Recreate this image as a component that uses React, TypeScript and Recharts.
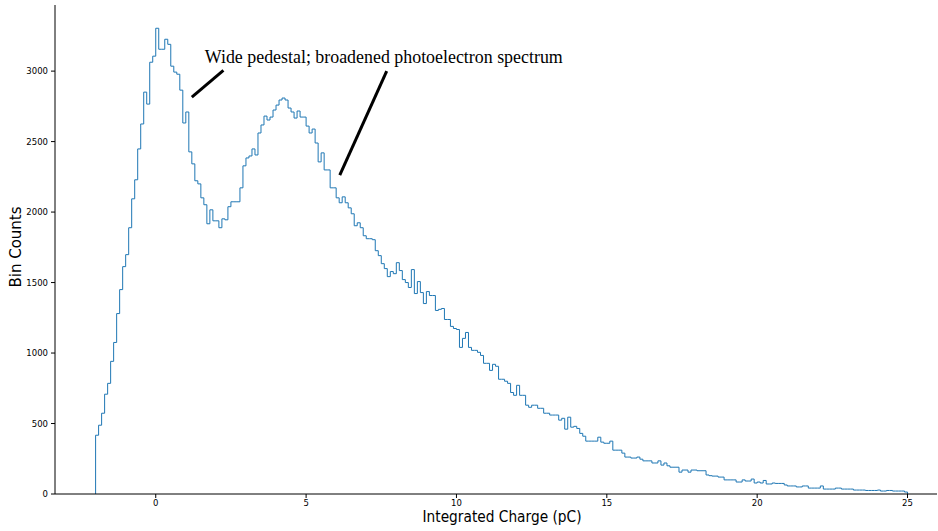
import { LineChart, Line, XAxis, YAxis, ReferenceLine, ReferenceDot } from "recharts";

// Histogram of integrated charge, bins of 0.1 pC starting at -2 pC
// (counts read off the reference plot, so only approximate)
const binStart = -2;
const binWidth = 0.1;
const counts = [
  417, 488, 573, 708, 785, 941, 1075, 1280, 1450, 1613, // -2.0
  1698, 1889, 2094, 2229, 2448, 2625, 2851, 2766, 3063, 3106, // -1.0
  3304, 3155, 3155, 3226, 3190, 3035, 2993, 2978, 2865, 2632, // 0
  2710, 2427, 2342, 2222, 2200, 2101, 2052, 1917, 2016, 1938, // 1
  1938, 1889, 1952, 1945, 2038, 2073, 2073, 2073, 2172, 2328, // 2
  2384, 2398, 2448, 2405, 2561, 2618, 2681, 2653, 2674, 2724, // 3
  2759, 2795, 2809, 2795, 2738, 2710, 2667, 2717, 2674, 2674, // 4
  2610, 2561, 2589, 2490, 2356, 2420, 2299, 2299, 2172, 2172, // 5
  2101, 2066, 2108, 2066, 2030, 1988, 1903, 1924, 1889, 1832, // 6
  1811, 1811, 1804, 1726, 1691, 1634, 1599, 1542, 1578, 1563, // 7
  1641, 1585, 1521, 1500, 1465, 1592, 1422, 1507, 1429, 1351, // 8
  1436, 1408, 1408, 1302, 1310, 1316, 1238, 1238, 1189, 1174, // 9
  1167, 1040, 1104, 1146, 1040, 1019, 1019, 1005, 983, 927, // 10
  927, 877, 920, 906, 814, 814, 800, 785, 720, 700, // 11
  771, 700, 700, 630, 615, 630, 630, 608, 608, 573, // 12
  573, 560, 560, 560, 524, 537, 460, 545, 474, 480, // 13
  465, 430, 410, 375, 375, 375, 375, 403, 368, 360, // 14
  360, 375, 311, 311, 311, 290, 262, 262, 255, 255, // 15
  262, 247, 235, 235, 235, 220, 220, 235, 205, 220, // 16
  200, 190, 190, 190, 155, 170, 170, 155, 170, 170, // 17
  165, 165, 165, 135, 130, 127, 127, 120, 120, 100, // 18
  100, 100, 100, 85, 85, 100, 92, 92, 106, 78, // 19
  85, 78, 96, 71, 71, 78, 75, 75, 75, 64, // 20
  57, 57, 57, 50, 50, 57, 57, 42, 42, 42, // 21
  42, 57, 35, 35, 35, 35, 42, 42, 35, 35, // 22
  35, 35, 28, 28, 28, 28, 25, 25, 25, 25, // 23
  28, 21, 21, 25, 25, 21, 21, 21, 21, 14, // 24
];

const xTicks = [0, 5, 10, 15, 20, 25];
const yTicks = [0, 500, 1000, 1500, 2000, 2500, 3000];
const note = "Wide pedestal; broadened photoelectron spectrum";

const binEnd = Math.round((binStart + counts.length * binWidth) * 10) / 10;

// outline like matplotlib histtype="step": up from 0 at the first edge, down to 0 at the last
const steps = [
  { charge: binStart, count: 0 },
  ...counts.map((c, i) => ({ charge: Math.round((binStart + i * binWidth) * 10) / 10, count: c })),
  { charge: binEnd, count: counts[counts.length - 1] },
  { charge: binEnd, count: 0 },
];

const xDomain = [-3.35, 25.98];
const yDomain = [0, 3469];
const tickFont = { fill: "#000", fontSize: 8.5, fontFamily: "DejaVu Sans" };

export default function App() {
  return (
    <div style={{ position: "absolute", left: 0, top: 0, width: 938, height: 531, background: "#fff" }}>
      <LineChart width={938} height={531} data={steps} margin={{ top: 5, right: 1, left: 0, bottom: 0 }}>
        <XAxis
          xAxisId="top"
          orientation="top"
          type="number"
          dataKey="charge"
          domain={xDomain}
          allowDataOverflow
          height={0}
          tick={false}
          tickLine={false}
          axisLine={{ stroke: "#000" }}
        />
        <XAxis
          type="number"
          dataKey="charge"
          domain={xDomain}
          allowDataOverflow
          ticks={xTicks}
          height={37}
          tickSize={4}
          tickMargin={2}
          tick={tickFont}
          tickLine={{ stroke: "#000" }}
          axisLine={{ stroke: "#000" }}
          label={{
            content: () => (
              <text x={502} y={522} textAnchor="middle" fontSize={15} fontFamily="DejaVu Sans" fill="#000"
                textLength={159} lengthAdjust="spacingAndGlyphs">
                Integrated Charge (pC)
              </text>
            ),
          }}
        />
        <YAxis
          type="number"
          domain={yDomain}
          allowDataOverflow
          ticks={yTicks}
          width={55}
          tickSize={4}
          tickMargin={3}
          tick={tickFont}
          tickLine={{ stroke: "#000" }}
          axisLine={{ stroke: "#000" }}
          label={{
            content: () => (
              <text x={21} y={247} transform="rotate(-90 21 247)" textAnchor="middle" fontSize={15}
                fontFamily="DejaVu Sans" fill="#000">
                Bin Counts
              </text>
            ),
          }}
        />
        <Line
          type="stepAfter"
          dataKey="count"
          stroke="#1f77b4"
          strokeWidth={1}
          dot={false}
          activeDot={false}
          isAnimationActive={false}
        />
        <ReferenceLine segment={[{ x: 2.25, y: 3005 }, { x: 1.2, y: 2815 }]} stroke="#000" strokeWidth={3} />
        <ReferenceLine segment={[{ x: 7.68, y: 3000 }, { x: 6.12, y: 2262 }]} stroke="#000" strokeWidth={3} />
        <ReferenceDot
          x={1.63}
          y={3056}
          r={0}
          shape={(p: any) => (
            <text x={p.cx} y={p.cy} fontSize={19} fontFamily="Liberation Serif" fill="#000"
              textLength={358} lengthAdjust="spacingAndGlyphs">
              {note}
            </text>
          )}
        />
      </LineChart>
    </div>
  );
}
